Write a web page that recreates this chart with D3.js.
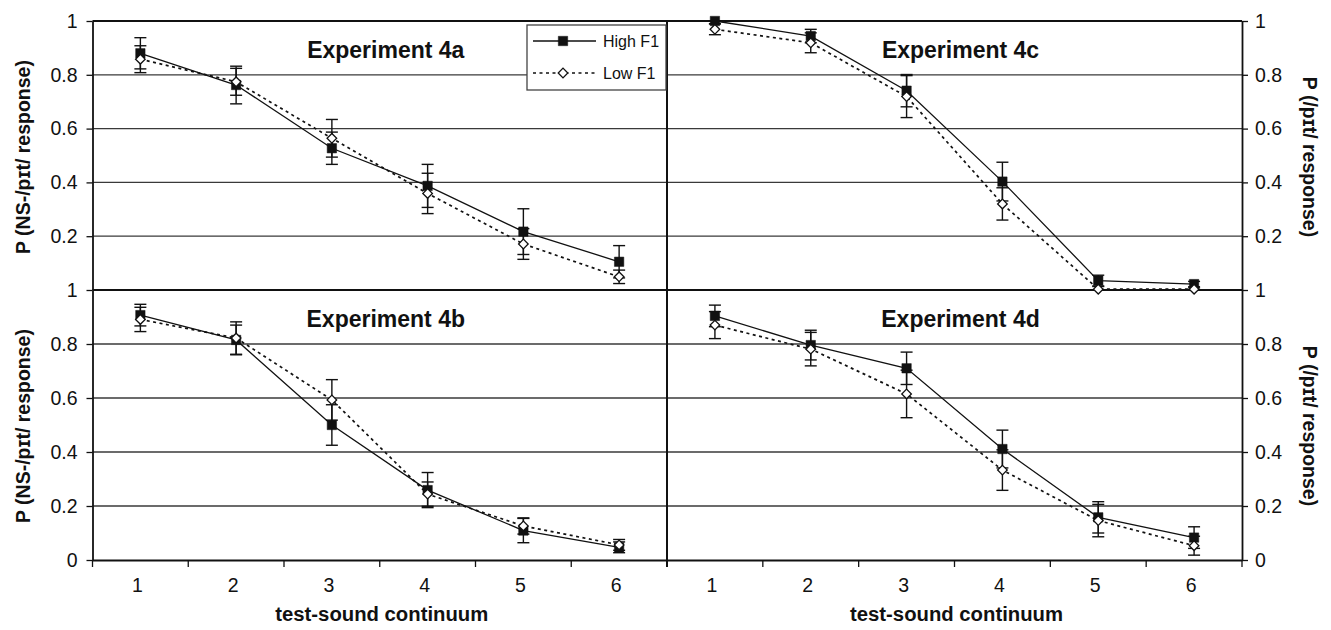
<!DOCTYPE html>
<html><head><meta charset="utf-8">
<script src="https://cdn.jsdelivr.net/npm/d3@7"></script>
<style>
html,body{margin:0;padding:0;background:#fff;}
svg{display:block;font-family:"Liberation Sans",Arial,Helvetica,sans-serif;}
</style></head>
<body>
<svg id="chart" width="1331" height="630"></svg>
<script>
// ---- data ----
const categories = [1, 2, 3, 4, 5, 6];
const seriesNames = ["High F1", "Low F1"];
const panelTitles = ["Experiment 4a", "Experiment 4b", "Experiment 4c", "Experiment 4d"];
const leftAxisTitle = "P (NS-/p\u026At/ response)";
const rightAxisTitle = "P (/p\u026At/ response)";
const xAxisTitle = "test-sound continuum";
const yTicksTop = [0.2, 0.4, 0.6, 0.8, 1];
const yTicksBottom = [0, 0.2, 0.4, 0.6, 0.8, 1];
const gridValues = [0.2, 0.4, 0.6, 0.8];

const high4a = [0.880, 0.762, 0.527, 0.387, 0.217, 0.105];
const highErr4a = [0.058, 0.070, 0.060, 0.080, 0.085, 0.060];
const low4a = [0.858, 0.774, 0.564, 0.359, 0.171, 0.049];
const lowErr4a = [0.050, 0.050, 0.070, 0.075, 0.057, 0.025];

const high4b = [0.907, 0.815, 0.500, 0.259, 0.109, 0.047];
const highErr4b = [0.040, 0.055, 0.075, 0.065, 0.045, 0.020];
const low4b = [0.891, 0.822, 0.593, 0.244, 0.126, 0.056];
const lowErr4b = [0.045, 0.060, 0.075, 0.045, 0.030, 0.020];

const high4c = [1.000, 0.944, 0.741, 0.403, 0.035, 0.022];
const highErr4c = [0.010, 0.025, 0.060, 0.072, 0.020, 0.010];
const low4c = [0.969, 0.919, 0.719, 0.320, 0.003, 0.003];
const lowErr4c = [0.020, 0.037, 0.078, 0.060, 0.010, 0.005];

const high4d = [0.904, 0.796, 0.710, 0.411, 0.158, 0.083];
const highErr4d = [0.040, 0.055, 0.060, 0.070, 0.058, 0.040];
const low4d = [0.870, 0.781, 0.615, 0.333, 0.146, 0.053];
const lowErr4d = [0.050, 0.062, 0.088, 0.075, 0.060, 0.035];

// ---- layout ----
const svg = d3.select("#chart");
const X0 = 92.5, XM = 667, X1 = 1242;
const YT = 21, YM = 290, YB = 560;
const FONT = '"Liberation Sans",Arial,Helvetica,sans-serif';

const xLeft = d3.scaleBand().domain(categories).range([X0, XM]).padding(0);
const xRight = d3.scaleBand().domain(categories).range([XM, X1]).padding(0);
const yTop = d3.scaleLinear().domain([0, 1]).range([YM, YT]);
const yBot = d3.scaleLinear().domain([0, 1]).range([YB, YM]);

const panels = [
  {x: xLeft, y: yTop, title: panelTitles[0], high: high4a, highErr: highErr4a, low: low4a, lowErr: lowErr4a, legend: true},
  {x: xLeft, y: yBot, title: panelTitles[1], high: high4b, highErr: highErr4b, low: low4b, lowErr: lowErr4b},
  {x: xRight, y: yTop, title: panelTitles[2], high: high4c, highErr: highErr4c, low: low4c, lowErr: lowErr4c},
  {x: xRight, y: yBot, title: panelTitles[3], high: high4d, highErr: highErr4d, low: low4d, lowErr: lowErr4d}
];

const fmt = v => (v === 1 ? "1" : v === 0 ? "0" : d3.format(".1f")(v));
const squareSym = d3.symbol().type(d3.symbolSquare).size(88);
const diamondSym = d3.symbol().type(d3.symbolSquare).size(46);

// gridlines
panels.forEach(p => {
  const [a, b] = p.x.range();
  svg.append("g").selectAll("line").data(gridValues).join("line")
    .attr("x1", a).attr("x2", b)
    .attr("y1", d => p.y(d)).attr("y2", d => p.y(d))
    .attr("stroke", "#3a3a3a").attr("stroke-width", 1.3);
});

// frame lines
const frame = svg.append("g").attr("stroke", "#111");
frame.append("line").attr("x1", X0).attr("x2", X1).attr("y1", YT).attr("y2", YT).attr("stroke-width", 2.2);
frame.append("line").attr("x1", X0).attr("x2", X1).attr("y1", YM).attr("y2", YM).attr("stroke-width", 2.2);
frame.append("line").attr("x1", XM).attr("x2", XM).attr("y1", YT).attr("y2", YB + 7).attr("stroke-width", 2);

// y axes
function styleAxis(g, anchor) {
  g.select(".domain").attr("stroke", "#111").attr("stroke-width", 1.8);
  g.selectAll(".tick line").attr("stroke", "#111").attr("stroke-width", 1.3);
  g.selectAll(".tick text").attr("font-family", FONT).attr("font-size", 19.5).attr("fill", "#111");
}
[[yTop, yTicksTop], [yBot, yTicksBottom]].forEach(([ys, tv]) => {
  svg.append("g").attr("transform", `translate(${X0},0)`)
    .call(d3.axisLeft(ys).tickValues(tv).tickFormat(fmt).tickSize(6).tickPadding(9).tickSizeOuter(0))
    .call(styleAxis);
  svg.append("g").attr("transform", `translate(${X1},0)`)
    .call(d3.axisRight(ys).tickValues(tv).tickFormat(fmt).tickSize(6).tickPadding(7).tickSizeOuter(0))
    .call(styleAxis);
});

// x axes
[xLeft, xRight].forEach(xs => {
  const g = svg.append("g").attr("transform", `translate(0,${YB})`)
    .call(d3.axisBottom(xs).tickSize(0).tickPadding(18).tickSizeOuter(0));
  g.select(".domain").attr("stroke", "#111").attr("stroke-width", 1.8);
  g.selectAll(".tick text").attr("font-family", FONT).attr("font-size", 19.5).attr("fill", "#111")
    .attr("dx", -3);
  const edges = categories.map(c => xs(c)).concat([xs.range()[1]]);
  g.selectAll(".edge").data(edges).join("line").attr("class", "edge")
    .attr("x1", d => d).attr("x2", d => d).attr("y1", 0).attr("y2", 7)
    .attr("stroke", "#111").attr("stroke-width", 1.3);
  const mid = (xs.range()[0] + xs.range()[1]) / 2;
  svg.append("text").attr("x", mid + 2).attr("y", 621).attr("text-anchor", "middle")
    .attr("font-family", FONT).attr("font-weight", "bold").attr("font-size", 20.3).attr("fill", "#111")
    .text(xAxisTitle);
});

// axis titles
[[yTop, 157], [yBot, 426]].forEach(([ys, cy]) => {
  svg.append("text").attr("transform", `translate(30,${cy}) rotate(-90)`)
    .attr("text-anchor", "middle").attr("font-family", FONT).attr("font-weight", "bold")
    .attr("font-size", 19.5).attr("fill", "#111").text(leftAxisTitle);
  svg.append("text").attr("transform", `translate(1303,${cy}) rotate(90)`)
    .attr("text-anchor", "middle").attr("font-family", FONT).attr("font-weight", "bold")
    .attr("font-size", 19.5).attr("fill", "#111").text(rightAxisTitle);
});

// data
panels.forEach(p => {
  const cx = c => p.x(c) + p.x.bandwidth() / 2;
  const [a, b] = p.x.range();
  svg.append("text").attr("x", (a + b) / 2 + 6).attr("y", p.y(1) + 37)
    .attr("text-anchor", "middle").attr("font-family", FONT).attr("font-weight", "bold")
    .attr("font-size", 23).attr("fill", "#111").text(p.title);

  const series = [
    {vals: p.high, err: p.highErr, dash: null, sym: "sq"},
    {vals: p.low, err: p.lowErr, dash: "3,3.5", sym: "di"}
  ];
  const clamp = v => Math.max(0, Math.min(1, v));
  series.forEach(s => {
    const pts = categories.map((c, i) => ({c, v: s.vals[i], e: s.err[i]}));
    const eg = svg.append("g").attr("stroke", "#111").attr("stroke-width", 1.4);
    pts.forEach(d => {
      const x = cx(d.c), hi = p.y(clamp(d.v + d.e)), lo = p.y(clamp(d.v - d.e));
      eg.append("line").attr("x1", x).attr("x2", x).attr("y1", hi).attr("y2", lo);
      eg.append("line").attr("x1", x - 6).attr("x2", x + 6).attr("y1", hi).attr("y2", hi);
      eg.append("line").attr("x1", x - 6).attr("x2", x + 6).attr("y1", lo).attr("y2", lo);
    });
  });
  series.forEach(s => {
    const pts = categories.map((c, i) => ({c, v: s.vals[i]}));
    svg.append("path").datum(pts)
      .attr("d", d3.line().x(d => cx(d.c)).y(d => p.y(d.v)))
      .attr("fill", "none").attr("stroke", "#111")
      .attr("stroke-width", s.dash ? 1.7 : 1.3)
      .attr("stroke-dasharray", s.dash);
  });
  series.forEach(s => {
    const pts = categories.map((c, i) => ({c, v: s.vals[i]}));
    svg.append("g").selectAll("path").data(pts).join("path")
      .attr("transform", d => `translate(${cx(d.c)},${p.y(d.v)})` + (s.sym === "di" ? " rotate(45)" : ""))
      .attr("d", s.sym === "di" ? diamondSym() : squareSym())
      .attr("fill", s.sym === "di" ? "#fff" : "#111")
      .attr("stroke", "#111").attr("stroke-width", s.sym === "di" ? 1.3 : 0.5);
  });

  if (p.legend) {
    const lg = svg.append("g");
    lg.append("rect").attr("x", 527).attr("y", 25).attr("width", 139).attr("height", 65)
      .attr("fill", "#fff").attr("stroke", "#444").attr("stroke-width", 1.3);
    series.forEach((s, i) => {
      const ly = 41 + i * 32;
      lg.append("line").attr("x1", 533).attr("x2", 596).attr("y1", ly).attr("y2", ly)
        .attr("stroke", "#111").attr("stroke-width", s.dash ? 1.7 : 1.3).attr("stroke-dasharray", s.dash);
      lg.append("path").attr("transform", `translate(563,${ly})` + (s.sym === "di" ? " rotate(45)" : ""))
        .attr("d", s.sym === "di" ? diamondSym() : squareSym())
        .attr("fill", s.sym === "di" ? "#fff" : "#111").attr("stroke", "#111")
        .attr("stroke-width", s.sym === "di" ? 1.3 : 0.5);
      lg.append("text").attr("x", 603).attr("y", ly + 6).attr("font-family", FONT)
        .attr("font-size", 16).attr("fill", "#111").text(seriesNames[i]);
    });
  }
});
</script>
</body></html>
